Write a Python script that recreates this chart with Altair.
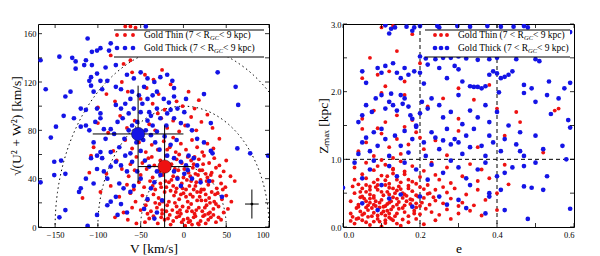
import altair as alt
import pandas as pd
import numpy as np

# ---------------- data ----------------
# Left panel: Toomre diagram, (V [km/s], sqrt(U^2+W^2) [km/s])
thin_toomre = [
    (-30,3),(-22,6),(-15,2),(-8,8),(-2,4),(5,7),(10,2),(14,9),(20,5),(26,3),(32,8),(38,4),(-35,9),(-45,4),(-12,5),(2,1),(17,3),(23,9),(8,5),(-26,8),(29,6),(-5,9),(-40,7),(44,6),(-55,3),(-65,6),(-80,8),
    (-38,13),(-31,16),(-25,11),(-19,18),(-13,14),(-7,12),(-1,17),(4,13),(9,19),(13,11),(18,16),(22,13),(27,18),(31,12),(35,15),(41,17),(47,12),(-44,18),(-50,14),(-28,19),(-16,10),(6,16),(15,14),(25,10),(-4,14),(38,19),(-60,16),(52,15),(-70,12),
    (-42,22),(-35,27),(-29,24),(-22,29),(-17,21),(-11,26),(-5,23),(0,28),(5,21),(11,25),(16,29),(21,22),(26,27),(30,24),(36,21),(40,28),(45,23),(-48,26),(-56,21),(-24,21),(8,27),(19,25),(33,29),(-9,29),(50,26),(-62,28),(-75,25),(56,21),
    (-46,33),(-39,38),(-33,31),(-27,36),(-20,33),(-14,39),(-8,32),(-2,36),(3,31),(9,38),(14,34),(20,39),(24,31),(29,35),(34,38),(39,32),(44,36),(-52,37),(-58,31),(-66,35),(-17,37),(12,31),(27,38),(49,33),(-85,34),(60,38),
    (-50,43),(-43,48),(-36,41),(-30,46),(-24,43),(-18,49),(-12,42),(-6,47),(0,41),(6,45),(11,49),(17,43),(22,47),(28,41),(33,45),(38,49),(43,42),(-57,47),(-64,42),(-72,48),(47,46),(-90,44),(55,42),
    (-48,53),(-41,57),(-34,51),(-27,55),(-20,59),(-14,52),(-8,56),(-2,53),(5,58),(12,52),(18,56),(24,59),(30,53),(36,57),(42,51),(-55,58),(-62,52),(-78,55),(-95,57),(50,55),
    (-44,62),(-37,68),(-30,64),(-23,71),(-16,66),(-9,62),(-3,69),(3,64),(10,72),(16,66),(22,62),(28,69),(35,65),(-52,70),(-60,65),(-68,72),(-82,63),(-105,66),(42,73),(-12,74),
    (-48,78),(-40,85),(-33,80),(-26,90),(-19,82),(-12,88),(-5,79),(2,84),(9,91),(15,80),(21,87),(28,93),(-57,88),(-66,82),(-74,92),(-88,78),(-100,86),(34,82),(-30,94),
    (-58,98),(-50,106),(-43,115),(-36,102),(-29,110),(-22,97),(-15,118),(-8,104),(-1,100),(6,112),(13,98),(-65,112),(-72,120),(-80,104),(-90,110),(-45,126),(-60,128),(-35,122),(-25,130),(18,105),(-100,99),
    (-70,135),(-62,138),(-85,142),(-68,166),(-62,166),(-56,165),(-108,59),(-97,29),(-118,24),(-110,45),
    (-25,14),(-18,7),(-10,20),(-3,11),(3,25),(7,34),(12,8),(16,22),(21,31),(25,16),(31,20),(35,10),(-33,20),(-21,38),(-7,41),(1,48),(8,42),(15,37),(19,47),(26,44),(-28,46),(-15,30),(-1,32),(6,4),(10,13),(18,2),(-20,13),(-36,34),(32,43),(37,27),(-12,34),(4,39),(23,52),(-5,60),(13,58),(-19,64),(-37,58),(29,11),(41,8),(46,31),(-42,11),(-26,33),(-10,48),(9,55),(-3,27),(14,44),(20,29),(26,22),(-8,17),(0,6),
]
thick_toomre = [
    (-112,156),(-85,152),(-97,148),(-101,146),(-107,145),(-77,148),(-73,147),(-64,148),(-87,146),(-130,140),(-126,137),(-145,141),(-167,138),(-114,138),(-107,134),(-116,134),(-91,132),(-79,134),(-126,131),(-101,127),(-108,124),(-110,121),(-97,121),(-89,121),
    (-161,114),(-132,112),(-138,108),(-108,117),(-105,112),(-95,114),(-79,116),(-73,114),(-66,126),(-50,128),(-58,123),(-42,123),(-34,120),(-27,124),(-19,126),(-13,121),(-11,115),(40,128),(61,116),(64,101),(24,110),(3,106),
    (-120,98),(-114,97),(-101,98),(-97,94),(-140,92),(-128,90),(-149,83),(-155,74),(-120,83),(-114,84),(-110,80),(-103,87),(-97,90),(-93,81),(-79,101),(-73,98),(-68,102),(-62,106),(-60,112),(-52,109),(-46,116),(-42,106),(-36,109),(-31,112),(-23,106),(-17,103),(-11,108),
    (-31,98),(-40,95),(-50,95),(-58,98),(-64,94),(-71,90),(-77,87),(-85,81),(-81,77),(-91,73),(-105,70),(-97,62),(-101,59),(-95,57),(-108,57),(-85,62),(-75,66),(-69,73),(-64,80),(-60,84),(-54,87),(-42,88),(-36,84),(-31,79),(-27,90),(-19,94),(-11,90),(-3,86),(5,84),(10,80),(16,73),(24,70),(32,86),(32,63),(34,61),(63,65),(78,61),(99,59),(1,95),(-7,98),(-15,97),
    (-151,54),(-143,55),(-138,44),(-151,43),(-167,37),(-114,40),(-120,32),(-122,29),(-105,36),(-101,48),(-93,46),(-89,40),(-85,50),(-79,54),(-73,51),(-68,59),(-62,61),(-60,54),(-66,46),(-54,46),(-50,40),(-58,34),(-62,29),(-70,32),(-75,36),(-79,25),(-85,21),(-89,18),(-73,19),
    (-42,23),(-38,32),(-34,37),(-31,46),(-27,43),(-19,59),(-11,57),(-3,54),(3,51),(6,59),(12,57),(16,51),(-11,46),(-7,40),(-3,34),(1,44),(5,47),(10,40),(20,37),(30,38),(45,25),(-25,22),(-31,12),(-34,7),(-46,15),(-66,12),(-77,10),(-101,10),(-112,1),(-138,14),(-145,8),
    (-47,72),(-44,80),(-38,76),(-55,70),(-50,63),(-33,70),(-28,64),(-22,75),(-45,55),(-40,50),(-48,102),(-38,92),(-20,84),(-25,52),(-15,68),(-8,72),(-44,166),
]
# Right panel: (e, Zmax [kpc])
thin_orbit = [
    (0.03,0.05),(0.05,0.1),(0.07,0.03),(0.09,0.12),(0.11,0.06),(0.13,0.1),(0.15,0.02),(0.04,0.13),(0.08,0.08),(0.12,0.14),(0.17,0.07),(0.19,0.12),(0.06,0.07),(0.1,0.01),(0.14,0.05),(0.24,0.1),(0.28,0.12),(0.02,0.09),(0.21,0.04),
    (0.02,0.2),(0.035,0.28),(0.05,0.18),(0.065,0.25),(0.08,0.21),(0.095,0.29),(0.11,0.17),(0.125,0.26),(0.14,0.2),(0.155,0.28),(0.17,0.16),(0.185,0.24),(0.2,0.19),(0.215,0.27),(0.23,0.22),(0.25,0.18),(0.27,0.26),(0.3,0.2),(0.33,0.24),(0.36,0.17),(0.045,0.23),(0.075,0.16),(0.105,0.23),(0.13,0.3),(0.16,0.22),(0.19,0.29),(0.4,0.25),(0.06,0.29),(0.09,0.17),(0.12,0.2),
    (0.02,0.38),(0.04,0.33),(0.055,0.42),(0.07,0.36),(0.085,0.31),(0.1,0.4),(0.115,0.34),(0.13,0.44),(0.145,0.37),(0.16,0.32),(0.175,0.41),(0.19,0.35),(0.21,0.43),(0.225,0.33),(0.24,0.39),(0.26,0.35),(0.28,0.42),(0.31,0.36),(0.34,0.32),(0.37,0.4),(0.045,0.44),(0.08,0.43),(0.11,0.31),(0.14,0.33),(0.2,0.31),(0.065,0.32),(0.095,0.36),(0.125,0.38),(0.155,0.43),(0.235,0.44),(0.3,0.31),
    (0.03,0.5),(0.05,0.57),(0.07,0.48),(0.09,0.55),(0.105,0.47),(0.12,0.58),(0.135,0.5),(0.15,0.56),(0.165,0.46),(0.18,0.53),(0.2,0.59),(0.22,0.49),(0.24,0.55),(0.27,0.51),(0.29,0.57),(0.32,0.48),(0.35,0.55),(0.06,0.52),(0.085,0.59),(0.115,0.52),(0.145,0.6),(0.17,0.57),(0.19,0.47),(0.26,0.59),(0.4,0.5),
    (0.04,0.63),(0.06,0.72),(0.08,0.66),(0.1,0.76),(0.12,0.64),(0.14,0.7),(0.16,0.78),(0.18,0.67),(0.2,0.74),(0.22,0.62),(0.25,0.7),(0.28,0.65),(0.31,0.75),(0.35,0.68),(0.05,0.78),(0.09,0.62),(0.13,0.79),(0.17,0.61),(0.24,0.77),(0.38,0.72),(0.43,0.63),(0.11,0.69),(0.07,0.6),
    (0.03,0.88),(0.06,0.95),(0.08,0.84),(0.11,0.92),(0.13,0.86),(0.15,0.97),(0.18,0.9),(0.21,0.83),(0.23,0.95),(0.27,0.88),(0.33,0.93),(0.1,0.99),(0.16,0.82),(0.36,0.85),(0.42,0.92),
    (0.04,1.12),(0.06,1.25),(0.08,1.05),(0.1,1.38),(0.12,1.18),(0.14,1.3),(0.15,1.08),(0.17,1.22),(0.19,1.4),(0.21,1.15),(0.24,1.28),(0.27,1.06),(0.3,1.42),(0.35,1.18),(0.42,1.35),(0.46,1.55),(0.52,1.1),(0.09,1.46),(0.13,1.02),(0.16,1.48),(0.2,1.32),(0.05,1.45),
    (0.05,1.6),(0.08,1.72),(0.11,1.55),(0.12,1.85),(0.14,1.65),(0.16,1.95),(0.18,1.58),(0.22,1.78),(0.26,1.9),(0.3,1.6),(0.34,1.88),(0.4,1.75),(0.45,1.7),(0.56,1.75),(0.55,1.72),(0.1,1.98),
    (0.07,2.5),(0.09,2.25),(0.11,2.08),(0.12,2.3),(0.14,2.6),(0.16,2.15),(0.1,2.95),(0.18,2.85),(0.2,2.42),(0.3,2.05),(0.26,2.55),(0.13,2.97),(0.05,2.2),(0.38,2.1),
    (0.035,0.12),(0.055,0.2),(0.075,0.28),(0.095,0.08),(0.115,0.24),(0.135,0.16),(0.155,0.11),(0.175,0.34),(0.06,0.38),(0.08,0.46),(0.1,0.52),(0.12,0.36),(0.14,0.54),(0.16,0.48),(0.18,0.4),(0.09,0.7),(0.11,0.62),(0.13,0.57),(0.15,0.66),(0.07,0.55),(0.05,0.45),(0.04,0.3),(0.025,0.15),(0.065,0.15),(0.085,0.38),(0.105,0.3),(0.125,0.12),(0.145,0.27),(0.165,0.38),(0.185,0.2),(0.205,0.36),(0.225,0.5),(0.1,0.2),(0.08,0.33),(0.12,0.48),(0.14,0.42),(0.06,0.62),(0.17,0.7),(0.19,0.64),(0.03,0.7),(0.13,0.85),(0.09,0.9),(0.21,0.56),(0.07,0.42),(0.11,0.1),(0.155,0.5),(0.195,0.45),(0.045,0.52),(0.025,0.6),(0.115,0.75),
]
thick_orbit = [
    (0.11,2.98),(0.12,2.86),(0.125,2.93),(0.135,2.95),(0.165,2.96),(0.18,2.9),(0.185,2.95),(0.2,2.97),(0.245,2.97),(0.25,2.95),(0.297,2.97),(0.33,2.96),(0.375,2.97),(0.41,2.96),(0.443,2.96),(0.47,2.97),(0.48,2.95),(0.59,2.88),
    (0.2,2.52),(0.215,2.49),(0.24,2.48),(0.26,2.5),(0.28,2.5),(0.3,2.52),(0.32,2.49),(0.35,2.47),(0.38,2.48),(0.4,2.5),(0.45,2.48),(0.5,2.48),(0.51,2.45),
    (0.05,2.3),(0.06,2.13),(0.09,2.35),(0.1,2.28),(0.11,2.38),(0.13,2.42),(0.14,2.28),(0.15,2.2),(0.16,2.35),(0.17,2.25),(0.185,2.3),(0.2,2.28),(0.21,2.12),(0.22,2.4),(0.25,2.35),(0.27,2.2),(0.29,2.38),(0.3,2.33),(0.31,2.15),(0.33,2.08),(0.34,2.07),(0.35,2.07),(0.36,2.05),(0.37,2.08),(0.38,2.25),(0.39,2.3),(0.4,2.27),(0.41,2.2),(0.42,2.22),(0.43,2.25),(0.44,2.3),(0.47,2.1),(0.49,2.05),(0.535,2.15),(0.59,2.13),(0.575,2.05),
    (0.04,1.55),(0.05,1.65),(0.06,1.8),(0.075,1.7),(0.085,1.9),(0.1,1.95),(0.11,1.75),(0.12,1.85),(0.125,1.97),(0.13,1.8),(0.14,1.72),(0.15,1.95),(0.155,1.82),(0.16,1.9),(0.17,1.78),(0.175,1.65),(0.18,1.6),(0.19,1.5),(0.2,1.68),(0.205,1.85),(0.22,1.75),(0.23,1.9),(0.25,1.8),(0.26,1.62),(0.28,1.7),(0.3,1.95),(0.31,1.52),(0.33,1.72),(0.35,1.62),(0.37,1.8),(0.38,1.55),(0.4,1.7),(0.405,1.99),(0.43,1.5),(0.47,1.98),(0.5,1.85),(0.53,1.95),(0.54,1.67),(0.56,1.9),(0.585,1.58),(0.59,1.47),
    (0.04,1.08),(0.05,1.25),(0.06,1.32),(0.07,1.12),(0.08,1.4),(0.09,1.2),(0.1,1.45),(0.11,1.3),(0.12,1.05),(0.135,1.35),(0.15,1.2),(0.16,1.42),(0.17,1.1),(0.18,1.3),(0.19,1.48),(0.21,1.25),(0.215,1.05),(0.23,1.4),(0.24,1.32),(0.25,1.15),(0.26,1.28),(0.27,1.45),(0.28,1.22),(0.29,1.3),(0.3,1.25),(0.31,1.08),(0.32,1.35),(0.33,1.18),(0.34,1.45),(0.36,1.2),(0.37,1.05),(0.38,1.35),(0.39,1.25),(0.41,1.12),(0.42,1.3),(0.45,1.22),(0.46,1.4),(0.47,1.05),(0.5,1.35),(0.52,1.15),(0.57,1.2),(0.58,1.0),(0.46,1.12),
    (0.03,0.95),(0.05,0.72),(0.07,0.85),(0.08,0.98),(0.1,0.62),(0.12,0.9),(0.14,0.75),(0.16,0.95),(0.19,0.85),(0.22,0.7),(0.23,0.92),(0.26,0.8),(0.28,0.98),(0.3,0.88),(0.32,0.72),(0.35,0.85),(0.37,0.95),(0.4,0.75),(0.42,0.8),(0.44,0.88),(0.47,0.9),(0.5,0.95),(0.53,0.75),(0.47,0.6),(0.49,0.58),(0.52,0.55),(0.41,0.55),(0.38,0.5),(0.33,0.62),
    (0.0,0.58),(0.05,0.35),(0.09,0.25),(0.12,0.42),(0.18,0.3),(0.25,0.45),(0.27,0.33),(0.3,0.4),(0.32,0.28),(0.37,0.2),(0.42,0.25),(0.48,0.12),(0.59,0.27),(0.38,0.45),(0.2,0.45),(0.15,0.48),
]

# mean values with dispersions (left panel)
mean_group = ["thin", "thick"]
mean_V = [-22, -53]
mean_UW = [50, 77]
mean_V_err = [31, 53]
mean_UW_lo = [50, 40]
mean_UW_hi = [34, 40]
# typical error cross
err_V, err_UW, err_dV, err_dUW = [80], [19], [8], [12]
# constant total velocity circles
circle_radii = [50, 100, 150]
# dashed guide lines (right panel)
e_cuts = [0.2, 0.4]
z_cuts = [1.0]
# tick values
V_ticks = [-150, -100, -50, 0, 50, 100]
UW_ticks = [0, 20, 40, 60, 80, 100, 120, 140, 160]
e_ticks = [0, 0.1, 0.2, 0.3, 0.4, 0.5, 0.6]
Z_ticks = [0, 0.5, 1, 1.5, 2, 2.5, 3]

legend_parts = [("Gold Thin (7 < R", "GC", " < 9 kpc)"), ("Gold Thick (7 < R", "GC", " < 9 kpc)")]

RED = "#ee1111"
BLUE = "#1414e6"
FONT = "Liberation Serif"
W, H = 231, 203
TK = 4

# ---------------- frames ----------------
thinT = pd.DataFrame(thin_toomre, columns=["V", "UW"])
thickT = pd.DataFrame(thick_toomre, columns=["V", "UW"])
thinO = pd.DataFrame(thin_orbit, columns=["e", "Z"])
thickO = pd.DataFrame(thick_orbit, columns=["e", "Z"])
means = pd.DataFrame({"g": mean_group, "V": mean_V, "UW": mean_UW,
                      "V0": np.array(mean_V) - np.array(mean_V_err), "V1": np.array(mean_V) + np.array(mean_V_err),
                      "U0": np.array(mean_UW) - np.array(mean_UW_lo), "U1": np.array(mean_UW) + np.array(mean_UW_hi)})
errs = pd.DataFrame({"V": err_V, "UW": err_UW,
                     "V0": np.array(err_V) - np.array(err_dV), "V1": np.array(err_V) + np.array(err_dV),
                     "U0": np.array(err_UW) - np.array(err_dUW), "U1": np.array(err_UW) + np.array(err_dUW)})
ang = np.linspace(0, np.pi, 181)
circ = pd.concat([pd.DataFrame({"r": r, "i": np.arange(181), "V": r * np.cos(ang), "UW": r * np.sin(ang)})
                  for r in circle_radii])

xV = alt.X("V:Q", scale=alt.Scale(domain=[-170, 100], nice=False, zero=False),
           axis=alt.Axis(title="V [km/s]", values=V_ticks))
yU = alt.Y("UW:Q", scale=alt.Scale(domain=[0, 168], nice=False, zero=False),
           axis=alt.Axis(title="√(U² + W²) [km/s]", values=UW_ticks))


def inner_ticks(xenc, yenc, xname, yname, xt, yt):
    dx = pd.DataFrame({xname: xt})
    dy = pd.DataFrame({yname: yt})
    out = []
    for a, b in ((H, H - TK), (0, TK)):
        out.append(alt.Chart(dx).mark_rule(color="black", strokeWidth=0.8).encode(
            x=xenc, y=alt.value(a), y2=alt.value(b)))
    for a, b in ((0, TK), (W, W - TK)):
        out.append(alt.Chart(dy).mark_rule(color="black", strokeWidth=0.8).encode(
            y=yenc, x=alt.value(a), x2=alt.value(b)))
    return out


circles = alt.Chart(circ).mark_line(color="black", strokeDash=[1.5, 3], strokeWidth=1, clip=True).encode(
    x=xV, y=yU, detail="r:N", order="i:Q")
pt_thinT = alt.Chart(thinT).mark_point(filled=True, shape="circle", size=15, color=RED, opacity=1, clip=True).encode(x=xV, y=yU)
pt_thickT = alt.Chart(thickT).mark_point(filled=True, shape="circle", size=22, color=BLUE, opacity=1, clip=True).encode(x=xV, y=yU)
ebx = alt.Chart(means).mark_rule(color="black", strokeWidth=1).encode(x="V0:Q", x2="V1:Q", y="UW:Q")
eby = alt.Chart(means).mark_rule(color="black", strokeWidth=1).encode(x="V:Q", y="U0:Q", y2="U1:Q")
big = alt.Chart(means).mark_point(filled=True, shape="circle", size=180, opacity=1, stroke="black", strokeWidth=0.4).encode(
    x="V:Q", y="UW:Q",
    color=alt.Color("g:N", scale=alt.Scale(domain=["thin", "thick"], range=[RED, BLUE]), legend=None))
ex = alt.Chart(errs).mark_rule(color="black").encode(x="V0:Q", x2="V1:Q", y="UW:Q")
ey = alt.Chart(errs).mark_rule(color="black").encode(x="V:Q", y="U0:Q", y2="U1:Q")
ec = alt.Chart(errs).mark_point(filled=True, color="black", size=8, opacity=1).encode(x="V:Q", y="UW:Q")


def legend_layers(x0, width, mk, tx):
    one = pd.DataFrame({"t": [0]})
    box = alt.Chart(one).mark_rect(fill="white", stroke=None).encode(
        x=alt.value(x0), x2=alt.value(x0 + width), y=alt.value(6), y2=alt.value(33))
    top = alt.Chart(one).mark_rule(color="black", strokeWidth=1).encode(
        x=alt.value(x0), x2=alt.value(x0 + width), y=alt.value(6))
    bot = alt.Chart(one).mark_rule(color="black", strokeWidth=1).encode(
        x=alt.value(x0), x2=alt.value(x0 + width), y=alt.value(33))
    layers = [box, top, bot]
    for k, (parts, col, sz) in enumerate([(legend_parts[0], RED, 15), (legend_parts[1], BLUE, 22)]):
        yy = 11 + 13 * k
        for dx in mk:
            layers.append(alt.Chart(one).mark_point(filled=True, shape="circle", size=sz, color=col, opacity=1).encode(
                x=alt.value(x0 + dx), y=alt.value(yy)))
        df = pd.DataFrame({"a": [parts[0]], "b": [parts[1]], "c": [parts[2]]})
        base = alt.Chart(df)
        t1 = base.mark_text(align="left", baseline="middle", font=FONT, fontSize=9.5, color="black").encode(
            x=alt.value(x0 + tx), y=alt.value(yy), text="a:N")
        t2 = base.mark_text(align="left", baseline="middle", font=FONT, fontSize=6.5, fontStyle="italic",
                            color="black", dy=2.5,
                            dx=66 if k == 0 else 70).encode(x=alt.value(x0 + tx), y=alt.value(yy), text="b:N")
        t3 = base.mark_text(align="left", baseline="middle", font=FONT, fontSize=9.5, color="black",
                            dx=75 if k == 0 else 79).encode(x=alt.value(x0 + tx), y=alt.value(yy), text="c:N")
        layers += [t1, t2, t3]
    return layers


left = alt.layer(circles, pt_thinT, pt_thickT, ebx, eby, big, ex, ey, ec,
                 *inner_ticks(alt.X("V:Q"), alt.Y("UW:Q"), "V", "UW", V_ticks, UW_ticks),
                 *legend_layers(76, 150, (3, 11, 19), 30)).properties(width=W, height=H)

xe = alt.X("e:Q", scale=alt.Scale(domain=[0, 0.6], nice=False, zero=False),
           axis=alt.Axis(title="e", values=e_ticks, format=".1f"))
yz = alt.Y("Z:Q", scale=alt.Scale(domain=[0, 3], nice=False, zero=False),
           axis=alt.Axis(title="Zₘₐₓ [kpc]", values=Z_ticks, format=".1f"))
vcut = alt.Chart(pd.DataFrame({"e": e_cuts})).mark_rule(color="black", strokeDash=[4, 3], strokeWidth=1).encode(x=xe)
hcut = alt.Chart(pd.DataFrame({"Z": z_cuts})).mark_rule(color="black", strokeDash=[4, 3], strokeWidth=1).encode(y=yz)
pt_thinO = alt.Chart(thinO).mark_point(filled=True, shape="circle", size=15, color=RED, opacity=1, clip=True).encode(x=xe, y=yz)
pt_thickO = alt.Chart(thickO).mark_point(filled=True, shape="circle", size=22, color=BLUE, opacity=1, clip=True).encode(x=xe, y=yz)

right = alt.layer(vcut, hcut, pt_thinO, pt_thickO,
                  *inner_ticks(alt.X("e:Q"), alt.Y("Z:Q"), "e", "Z", e_ticks, Z_ticks),
                  *legend_layers(82, 145, (10, 16, 22), 33)).properties(width=W, height=H)

chart = alt.hconcat(left, right, spacing=45).properties(
    padding={"left": 0, "top": 11, "right": 0, "bottom": 0}
).configure_view(stroke="black", strokeWidth=1).configure_axis(
    grid=False, domain=False, ticks=False,
    labelFont=FONT, labelFontSize=8.5, labelColor="black", labelPadding=2,
    titleFont=FONT, titleFontSize=13.5, titleFontWeight="normal", titleColor="black", titlePadding=0,
).configure_axisX(labelPadding=3, titlePadding=3)

chart.save("out.html", embed_options={"renderer": "svg", "actions": False})
